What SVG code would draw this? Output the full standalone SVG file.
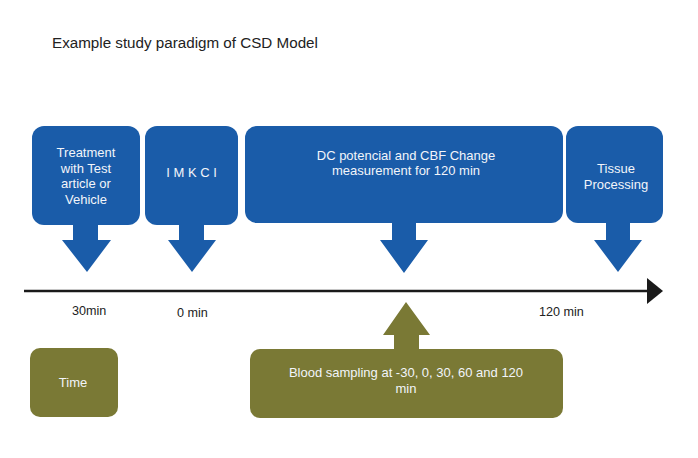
<svg xmlns="http://www.w3.org/2000/svg" width="698" height="458" viewBox="0 0 698 458">
<style>
  .blue { fill: #1a5ca9; }
  .olive { fill: #7a7935; }
  .bt { font-family: "Liberation Sans", Arial, sans-serif; font-size: 13px; fill: #f2f5fa; text-anchor: middle; }
  .lbl { font-family: "Liberation Sans", Arial, sans-serif; font-size: 12.6px; fill: #222; }
  .title { font-family: "Liberation Sans", Arial, sans-serif; font-size: 15.2px; fill: #222; }
</style>
<defs>
  <marker id="ah" markerWidth="16" markerHeight="26" refX="0" refY="13" orient="auto" markerUnits="userSpaceOnUse">
    <path d="M0,0 L16,13 L0,26 Z" fill="#1a1a1a"/>
  </marker>
</defs>
<rect width="698" height="458" fill="#ffffff"/>
<text class="title" x="52" y="48">Example study paradigm of CSD Model</text>

<g id="connectors">
  <line x1="24" y1="291" x2="647" y2="291" stroke="#1a1a1a" stroke-width="2.5" marker-end="url(#ah)"/>
  <path class="blue" d="M73,224 H98 V240 H111 L87,272 L62,240 H73 Z"/>
  <path class="blue" d="M179,224 H204 V240 H216 L192,272 L168,240 H179 Z"/>
  <path class="blue" d="M392,222 H416 V240 H428 L404,273 L380,240 H392 Z"/>
  <path class="blue" d="M606,222 H630 V240 H642 L618,272 L594,240 H606 Z"/>
  <path class="olive" d="M394,350 V335 H383 L406,302 L430,335 H419 V350 Z"/>
</g>

<g id="treatment">
  <rect class="blue" x="32" y="126" width="108" height="99" rx="12"/>
  <text class="bt" x="86" y="157">Treatment</text>
  <text class="bt" x="86" y="172.5">with Test</text>
  <text class="bt" x="86" y="188">article or</text>
  <text class="bt" x="86" y="203.5">Vehicle</text>
</g>
<g id="imkci">
  <rect class="blue" x="145" y="126" width="93" height="99" rx="12"/>
  <text class="bt" x="191.5" y="177">I M K C I</text>
</g>
<g id="dc">
  <rect class="blue" x="245" y="126" width="318" height="97" rx="12"/>
  <text class="bt" x="406" y="159.5">DC potencial and CBF Change</text>
  <text class="bt" x="406" y="175">measurement for 120 min</text>
</g>
<g id="tissue">
  <rect class="blue" x="566" y="126" width="97" height="97" rx="12"/>
  <text class="bt" x="616" y="173">Tissue</text>
  <text class="bt" x="616" y="188.5">Processing</text>
</g>

<g id="labels">
  <text class="lbl" x="72" y="315">30min</text>
  <text class="lbl" x="177" y="317">0 min</text>
  <text class="lbl" x="539" y="316">120 min</text>
</g>

<g id="time">
  <rect class="olive" x="30" y="348" width="88" height="69" rx="10"/>
  <text class="bt" x="73" y="387">Time</text>
</g>
<g id="blood">
  <rect class="olive" x="250" y="349" width="313" height="69" rx="10"/>
  <text class="bt" x="406" y="377">Blood sampling at -30, 0, 30, 60 and 120</text>
  <text class="bt" x="406" y="393">min</text>
</g>
</svg>
